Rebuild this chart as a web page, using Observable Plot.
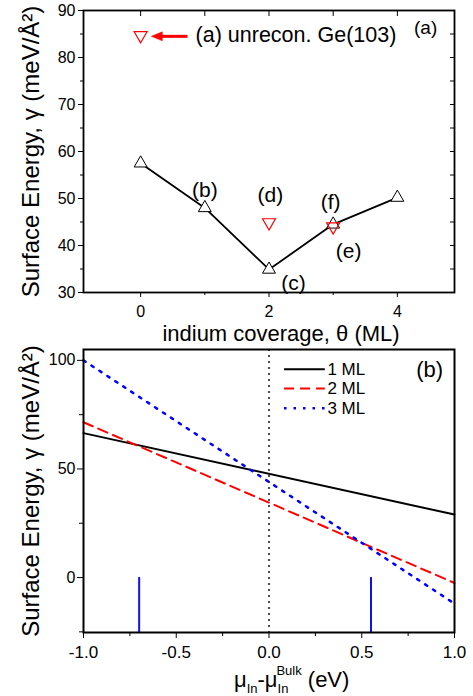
<!DOCTYPE html>
<html><head><meta charset="utf-8">
<script src="https://cdn.jsdelivr.net/npm/d3@7"></script>
<script src="https://cdn.jsdelivr.net/npm/@observablehq/plot@0.6"></script>
<style>
body{margin:0;background:#fff;}
#chart{width:473px;height:696px;position:relative;overflow:hidden;}
#chart svg{display:block;overflow:visible;}
</style></head><body><div id="chart"></div>
<script>
// ---- Panel (a) data ----
const coverage = [0, 1, 2, 3, 4];
const energyRecon = [57.5, 48, 34.9, 44.5, 50.2];
const coverageUnrecon = [0, 2, 3];
const energyUnrecon = [84.7, 44.9, 44.0];
const pointLabels = ["(b)", "(c)", "(d)", "(e)", "(f)"];
const pointLabelX = [1.0, 2.38, 2.02, 3.24, 2.96];
const pointLabelY = [51.7, 31.9, 50.6, 38.7, 49.1];
const unreconText = "(a) unrecon. Ge(103)";
const topXTicks = [0, 2, 4];
const topYTicks = [30, 40, 50, 60, 70, 80, 90];

// ---- Panel (b) data ----
const mu = [-1, 1];
const gamma1ML = [66.5, 29];
const gamma2ML = [71.5, -2.5];
const gamma3ML = [100, -12];
const seriesNames = ["1 ML", "2 ML", "3 ML"];
const boundaryMu = [-0.7, 0.55];
const bottomXTicks = [-1, -0.5, 0, 0.5, 1];
const bottomXMinor = [-0.75, -0.25, 0.25, 0.75];
const bottomYTicks = [0, 50, 100];
const bottomYMinor = [-25, 25, 75];

const font = '"Liberation Sans", Arial, Helvetica, sans-serif';
const yLabel = "Surface Energy, \u03b3 (meV/\u00c5\u00b2)";

const downTriangle = {
  draw(context, size) {
    const y = Math.sqrt(size / (3 * Math.sqrt(3)));
    const s = Math.sqrt(3);
    context.moveTo(0, 2 * y);
    context.lineTo(-s * y, -y);
    context.lineTo(s * y, -y);
    context.closePath();
  }
};
const leftHead = {
  draw(context) {
    context.moveTo(-6, 0);
    context.lineTo(5, -4.5);
    context.lineTo(5, 4.5);
    context.closePath();
  }
};
const blank = () => "";

const recon = coverage.map((c, i) => ({c, e: energyRecon[i]}));
const unrecon = coverageUnrecon.map((c, i) => ({c, e: energyUnrecon[i]}));
const labels = pointLabels.map((t, i) => ({t, x: pointLabelX[i], y: pointLabelY[i]}));

const topPlot = Plot.plot({
  width: 473, height: 340,
  marginLeft: 83, marginRight: 19, marginTop: 10, marginBottom: 48,
  style: {fontFamily: font, fontSize: "16px", color: "black", background: "white", overflow: "visible"},
  x: {domain: [-0.89, 4.89], label: null},
  y: {domain: [30, 90], label: null},
  marks: [
    Plot.axisY({ticks: topYTicks, tickSize: 5, tickPadding: 3, tickFormat: d => String(d), label: null, fontSize: 16}),
    Plot.axisY({ticks: d3.range(35, 90, 10), tickSize: 3, tickFormat: blank, label: null}),
    Plot.axisY({anchor: "right", ticks: d3.range(30, 91, 5), tickSize: -5, tickFormat: blank, label: null}),
    Plot.axisX({ticks: topXTicks, tickSize: 5, tickPadding: 8, tickFormat: d => String(d), label: null, fontSize: 16}),
    Plot.axisX({ticks: [1, 3], tickSize: 3, tickFormat: blank, label: null}),
    Plot.axisX({anchor: "top", ticks: coverage, tickSize: -5, tickFormat: blank, label: null}),
    Plot.frame({stroke: "black", strokeWidth: 1.8}),
    Plot.line(recon, {x: "c", y: "e", stroke: "black", strokeWidth: 1.8}),
    Plot.dot(recon, {x: "c", y: "e", symbol: "triangle", r: 4.8, stroke: "black", fill: "white", strokeWidth: 1}),
    Plot.dot(unrecon, {x: "c", y: "e", symbol: downTriangle, r: 4.8, stroke: "red", fill: "none", strokeWidth: 1.2}),
    Plot.link([{x1: 0.73, x2: 0.32, y: 84.5}], {x1: "x1", x2: "x2", y1: "y", y2: "y", stroke: "red", strokeWidth: 3}),
    Plot.dot([{x: 0.26, y: 84.5}], {x: "x", y: "y", symbol: leftHead, fill: "red", stroke: "red", strokeWidth: 0.5}),
    Plot.text([unreconText], {x: 0.856, y: 84.7, textAnchor: "start", fontSize: 21.5}),
    Plot.text(["(a)"], {x: 4.44, y: 86.3, fontSize: 19}),
    Plot.text(labels, {x: "x", y: "y", text: "t", fontSize: 21}),
    Plot.text([yLabel], {frameAnchor: "left", dx: -52, rotate: -90, textAnchor: "middle", fontSize: 24}),
    Plot.text(["indium coverage, \u03b8 (ML)"], {frameAnchor: "bottom", dx: 12, dy: 48, fontSize: 22})
  ]
});

const lineData = [gamma1ML, gamma2ML, gamma3ML].map((g, k) =>
  mu.map((m, i) => ({mu: m, g: g[i], s: seriesNames[k]})));
const yDom = [-25.3, 105];
const legendY = [95.9, 87.1, 77.9];
const legendColors = ["black", "red", "blue"];
const legendDash = [null, "10,6", "2.5,7"];
const legendWidth = [2, 2, 2.5];

const bottomPlot = Plot.plot({
  width: 473, height: 356,
  marginLeft: 83, marginRight: 19, marginTop: 9, marginBottom: 64,
  style: {fontFamily: font, fontSize: "16px", color: "black", background: "white", overflow: "visible"},
  x: {domain: [-1, 1], label: null},
  y: {domain: yDom, label: null},
  marks: [
    Plot.ruleX([0], {stroke: "#222", strokeDasharray: "2,4", strokeWidth: 1.6}),
    Plot.ruleX(boundaryMu, {y1: yDom[0], y2: 0, stroke: "#1010f0", strokeWidth: 2}),
    ...lineData.map((d, k) => Plot.line(d, {x: "mu", y: "g", stroke: legendColors[k], strokeWidth: legendWidth[k], strokeDasharray: legendDash[k]})),
    ...legendY.map((y, k) => Plot.link([{y}], {x1: 0.081, x2: 0.301, y1: "y", y2: "y", stroke: legendColors[k], strokeWidth: legendWidth[k], strokeDasharray: legendDash[k]})),
    Plot.text(seriesNames.map((s, k) => ({s, y: legendY[k]})), {x: 0.315, y: "y", text: "s", textAnchor: "start", fontSize: 17}),
    Plot.text(["(b)"], {x: 0.866, y: 95.4, fontSize: 22}),
    Plot.axisY({ticks: bottomYTicks, tickSize: 6, tickPadding: 2, tickFormat: d => String(d), label: null, fontSize: 16}),
    Plot.axisY({ticks: bottomYMinor, tickSize: 4, tickFormat: blank, label: null}),
    Plot.axisX({ticks: bottomXTicks, tickSize: 6, tickPadding: 7, tickFormat: d => d.toFixed(1), label: null, fontSize: 17}),
    Plot.axisX({ticks: bottomXMinor, tickSize: 4, tickFormat: blank, label: null}),
    Plot.frame({stroke: "black", strokeWidth: 2}),
    Plot.text([yLabel], {frameAnchor: "left", dx: -52, rotate: -90, textAnchor: "middle", fontSize: 24})
  ]
});

const chart = document.getElementById("chart");
chart.appendChild(topPlot);
chart.appendChild(bottomPlot);

// x label with sub/superscripts for panel (b)
const t = d3.select(bottomPlot).append("text")
  .attr("x", 234).attr("y", 347)
  .attr("text-anchor", "start")
  .attr("font-family", font).attr("font-size", 22).attr("fill", "black");
t.append("tspan").text("\u03bc");
t.append("tspan").attr("font-size", 13).attr("dy", 6).text("In");
t.append("tspan").attr("dy", -6).text("-\u03bc");
t.append("tspan").attr("font-size", 13).attr("dy", 6).text("In");
t.append("tspan").attr("font-size", 13).attr("dx", -12).attr("dy", -18).text("Bulk");
t.append("tspan").attr("dy", 12).text(" (eV)");
</script>
</body></html>
